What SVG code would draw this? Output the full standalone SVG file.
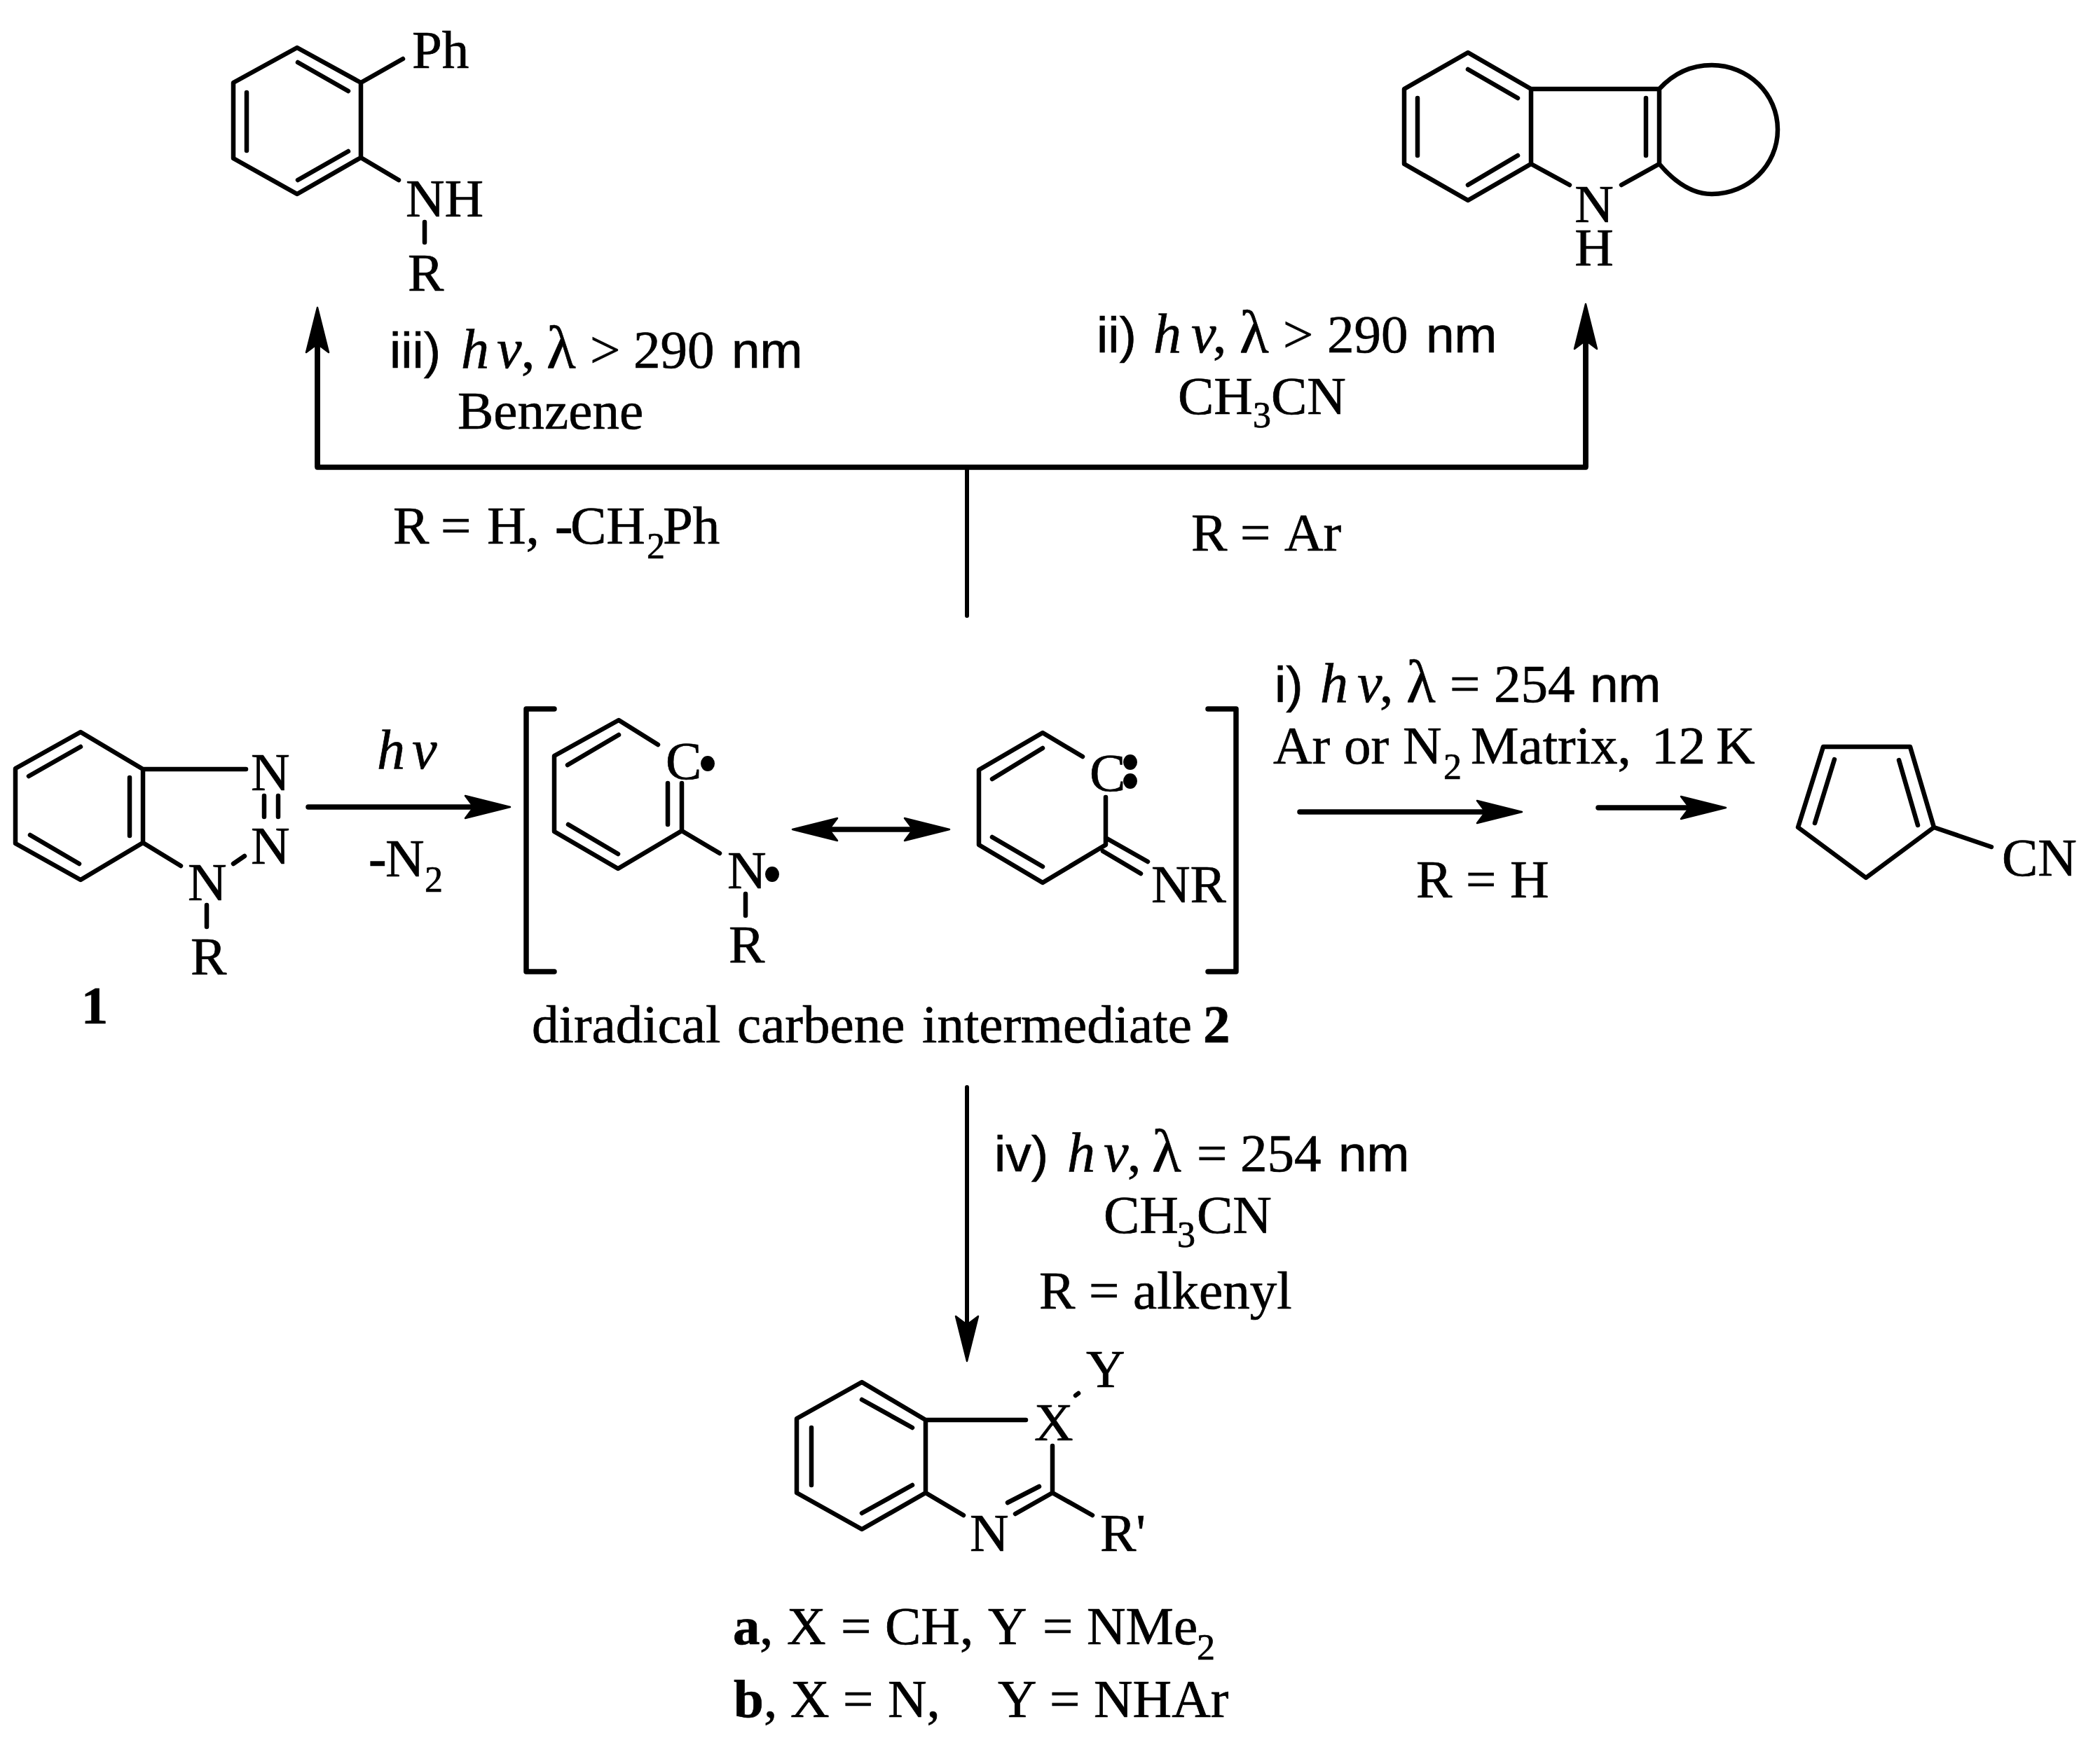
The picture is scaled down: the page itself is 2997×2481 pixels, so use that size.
<svg xmlns="http://www.w3.org/2000/svg" width="2997" height="2481" viewBox="0 0 2997 2481">
<style>
text{font-family:"Liberation Serif","Times New Roman",serif;font-size:77px;fill:#000;stroke:#000;stroke-width:.7}
.s{font-family:"Liberation Sans",Arial,sans-serif;font-size:73px}
.i{font-style:italic;font-size:80px}
.l{font-size:86px}
.b{font-weight:bold}
.u{font-size:52px}
.bond{fill:none;stroke:#000;stroke-width:6.5;stroke-linecap:round;stroke-linejoin:round}
.shaft{fill:none;stroke:#000;stroke-width:7.5;stroke-linecap:round;stroke-linejoin:round}
.thin{stroke-width:6}
.hd{marker-end:url(#head)}
.dot{fill:#000}
</style>
<defs>
<marker id="head" markerUnits="userSpaceOnUse" markerWidth="70" markerHeight="38" refX="22" refY="19" orient="auto-start-reverse" viewBox="0 0 70 38">
<path d="M66,19 L2,3 L14,19 L2,35 Z" fill="#000" stroke="#000" stroke-width="2.5" stroke-linejoin="round"/>
</marker>
</defs>
<rect width="2997" height="2481" fill="#fff"/>

<g id="connectors">
<path class="shaft" d="M453,483V667H2263V478"/>
<path class="shaft hd" d="M453,667V483" style="stroke-linecap:butt"/>
<path class="shaft hd" d="M2263,667V478" style="stroke-linecap:butt"/>
<path class="shaft thin" d="M1380,667V879"/>
<path class="shaft hd" d="M440,1152H684"/>
<path class="shaft" d="M1175,1184H1311" style="marker-start:url(#head);marker-end:url(#head)"/>
<path class="shaft hd" d="M1855,1159H2128"/>
<path class="shaft hd" d="M2281,1153H2419"/>
<path class="shaft thin hd" d="M1380,1552V1899"/>
</g>

<g id="node-2-phenylaniline">
<path class="bond" d="M424,68L515,118V225L424,277L333,226V118ZM425,89L497,130M352,132V215M425,257L497,216M515,118L575,84M515,225L569,257M606,317V346"/>
<text x="588" y="97">Ph</text>
<text x="579" y="309">NH</text>
<text x="582" y="415">R</text>
</g>

<g id="node-fused-indole">
<path class="bond" d="M2095,75L2185,127V234L2095,286L2004,234V127ZM2095,99L2166,140M2023,140V222M2095,264L2166,222M2185,127H2368V234M2349,140V222M2185,234L2240,264M2368,234L2314,264M2368,127C2390,103 2416,93 2443,93C2495,93 2537,134 2537,185C2537,236 2495,277 2443,277C2416,277 2390,260 2368,234"/>
<text x="2275" y="317" text-anchor="middle">N</text>
<text x="2275" y="379" text-anchor="middle">H</text>
</g>

<g id="label-iii">
<text y="525"><tspan class="s" x="556">iii)</tspan><tspan class="i" x="658">h</tspan><tspan class="i" x="709">ν</tspan><tspan x="744">,</tspan><tspan class="l" x="780">λ</tspan><tspan x="842">&gt;</tspan><tspan x="904">290</tspan><tspan class="s" x="1044">nm</tspan></text>
<text x="653" y="612">Benzene</text>
<text y="776"><tspan x="561">R</tspan><tspan x="629">=</tspan><tspan x="695">H,</tspan><tspan class="b" x="792">-</tspan><tspan x="814">CH</tspan><tspan class="u" x="923" y="797">2</tspan><tspan x="946" y="776">Ph</tspan></text>
</g>

<g id="label-ii">
<text y="503"><tspan class="s" x="1565">ii)</tspan><tspan class="i" x="1646">h</tspan><tspan class="i" x="1700">ν</tspan><tspan x="1731">,</tspan><tspan class="l" x="1769">λ</tspan><tspan x="1831">&gt;</tspan><tspan x="1894">290</tspan><tspan class="s" x="2035">nm</tspan></text>
<text y="591"><tspan x="1681">CH</tspan><tspan class="u" x="1788" y="610">3</tspan><tspan x="1814" y="591">CN</tspan></text>
<text y="786"><tspan x="1700">R</tspan><tspan x="1770">=</tspan><tspan x="1833">Ar</tspan></text>
</g>

<g id="node-1-benzotriazole">
<path class="bond" d="M115,1045L204,1098V1203L115,1256L22,1204V1097ZM115,1066L41,1108M185,1110V1193M43,1192L113,1233M204,1098H351M204,1203L258,1236M377,1136V1166M397,1136V1166M333,1233L349,1222M295,1292V1323"/>
<text x="358" y="1128">N</text>
<text x="358" y="1233">N</text>
<text x="268" y="1285">N</text>
<text x="272" y="1391">R</text>
<text class="b" x="135" y="1461" text-anchor="middle">1</text>
</g>

<g id="label-hv">
<text y="1097"><tspan class="i" x="538">h</tspan><tspan class="i" x="588">ν</tspan></text>
<text y="1251"><tspan class="b" x="526">-</tspan><tspan x="550">N</tspan><tspan class="u" x="606" y="1273">2</tspan></text>
</g>

<g id="node-2-diradical">
<path class="shaft" d="M791,1012H751V1387H791"/>
<path class="shaft" d="M1724,1012H1764V1387H1724"/>
<path class="bond" d="M939,1063L883,1028L791,1079V1187L882,1240L973,1186V1118M953,1118V1177M810,1092L883,1049M811,1177L882,1219M973,1186L1027,1218M1064,1276V1307"/>
<text x="950" y="1112">C</text>
<ellipse class="dot" cx="1010" cy="1090" rx="10" ry="11"/>
<text x="1038" y="1268">N</text>
<ellipse class="dot" cx="1102" cy="1248" rx="10" ry="11"/>
<text x="1040" y="1374">R</text>
<path class="bond" d="M1545,1080L1488,1046L1397,1099V1206L1488,1260L1578,1206V1138M1488,1068L1416,1112M1416,1195L1488,1237M1578,1196L1638,1230M1574,1215L1628,1247"/>
<text x="1555" y="1129">C</text>
<ellipse class="dot" cx="1613" cy="1088" rx="10" ry="11"/>
<ellipse class="dot" cx="1613" cy="1115" rx="10" ry="11"/>
<text x="1643" y="1288">NR</text>
<text y="1488"><tspan x="759">diradical</tspan><tspan x="1052">carbene</tspan><tspan x="1316">intermediate</tspan><tspan class="b" x="1717">2</tspan></text>
</g>

<g id="label-i">
<text y="1002"><tspan class="s" x="1819">i)</tspan><tspan class="i" x="1884">h</tspan><tspan class="i" x="1937">ν</tspan><tspan x="1969">,</tspan><tspan class="l" x="2007">λ</tspan><tspan x="2069">=</tspan><tspan x="2132">254</tspan><tspan class="s" x="2269">nm</tspan></text>
<text y="1090"><tspan x="1817">Ar</tspan><tspan x="1918">or</tspan><tspan x="2002">N</tspan><tspan class="u" x="2060" y="1112">2</tspan><tspan x="2099" y="1090">Matrix,</tspan><tspan x="2357">12</tspan><tspan x="2449">K</tspan></text>
<text y="1281"><tspan x="2021">R</tspan><tspan x="2092">=</tspan><tspan x="2155">H</tspan></text>
</g>

<g id="node-cyanocyclopentadiene">
<path class="bond" d="M2602,1066H2726L2760,1181L2663,1253L2566,1181ZM2618,1084L2590,1175M2710,1085L2737,1178M2760,1181L2842,1209"/>
<text x="2857" y="1250">CN</text>
</g>

<g id="label-iv">
<text y="1672"><tspan class="s" x="1419">iv)</tspan><tspan class="i" x="1523">h</tspan><tspan class="i" x="1575">ν</tspan><tspan x="1609">,</tspan><tspan class="l" x="1644">λ</tspan><tspan x="1708">=</tspan><tspan x="1770">254</tspan><tspan class="s" x="1910">nm</tspan></text>
<text y="1760"><tspan x="1575">CH</tspan><tspan class="u" x="1680" y="1780">3</tspan><tspan x="1708" y="1760">CN</tspan></text>
<text y="1868"><tspan x="1483">R</tspan><tspan x="1554">=</tspan><tspan x="1617">alkenyl</tspan></text>
</g>

<g id="node-product">
<path class="bond" d="M1230,1973L1321,2027V2131L1230,2183L1137,2131V2025ZM1230,1998L1302,2038M1158,2038V2120M1230,2160L1302,2120M1321,2027H1464M1502,2064V2131L1449,2161M1483,2122L1438,2145M1321,2131L1375,2163M1502,2131L1559,2163M1535,1992L1539,1989"/>
<text x="1476" y="2056">X</text>
<text x="1550" y="1980">Y</text>
<text x="1384" y="2214">N</text>
<text x="1570" y="2214">R'</text>
<text y="2347"><tspan class="b" x="1046">a</tspan><tspan x="1084">,</tspan><tspan x="1123">X</tspan><tspan x="1200">=</tspan><tspan x="1263">CH,</tspan><tspan x="1410">Y</tspan><tspan x="1488">=</tspan><tspan x="1551">NMe</tspan><tspan class="u" x="1708" y="2369">2</tspan></text>
<text y="2451"><tspan class="b" x="1047">b</tspan><tspan x="1090">,</tspan><tspan x="1128">X</tspan><tspan x="1203">=</tspan><tspan x="1267">N,</tspan><tspan x="1424">Y</tspan><tspan x="1498">=</tspan><tspan x="1561">NHAr</tspan></text>
</g>
</svg>
